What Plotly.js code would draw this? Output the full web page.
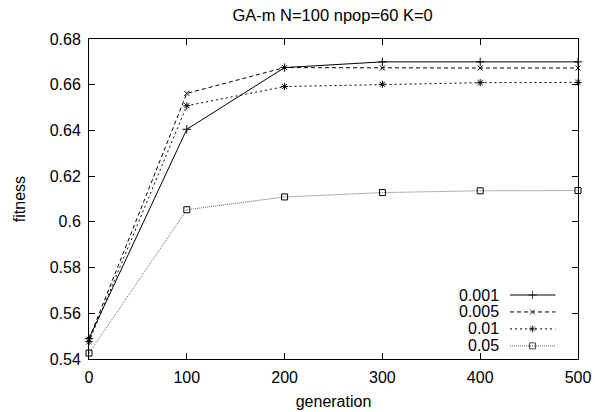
<!DOCTYPE html>
<html>
<head>
<meta charset="utf-8">
<script src="https://cdn.plot.ly/plotly-3.0.1.min.js"></script>
<style>html,body{margin:0;padding:0;background:#fff;}#chart{width:595px;height:412px;}</style>
</head>
<body>
<div id="chart"></div>
<script>
var generations = [0, 100, 200, 300, 400, 500];
var seriesNames = ["0.001", "0.005", "0.01", "0.05"];
var fit001 = [0.549, 0.6405, 0.6675, 0.6700, 0.6700, 0.6700];
var fit005 = [0.5487, 0.6562, 0.6675, 0.6673, 0.6673, 0.6673];
var fit01  = [0.5476, 0.6508, 0.6592, 0.6602, 0.6609, 0.6610];
var fit05  = [0.5426, 0.6053, 0.6109, 0.6128, 0.6136, 0.6137];
var xTicks = [0, 100, 200, 300, 400, 500];
var yTicks = [0.54, 0.56, 0.58, 0.6, 0.62, 0.64, 0.66, 0.68];
var yTickText = ["0.54", "0.56", "0.58", "0.6", "0.62", "0.64", "0.66", "0.68"];

var seriesValues = [fit001, fit005, fit01, fit05];
var styles = [
  {dash: "solid", color: "#000", symbol: "cross-thin-open", size: 6, lc: "#000"},
  {dash: "4px,3px", color: "#000", symbol: "x-thin-open", size: 5, lc: "#000"},
  {dash: "2px,3px", color: "#000", symbol: "asterisk-open", size: 6, lc: "#000"},
  {dash: "1px,1px", color: "#666", symbol: "square-open", size: 6, lc: "#000"}
];

var traces = [];
seriesValues.forEach(function (vals, i) {
  var s = styles[i];
  traces.push({
    x: generations, y: vals, type: "scatter", mode: "lines+markers",
    name: seriesNames[i], showlegend: false, cliponaxis: false,
    line: {color: s.color, width: 1, dash: s.dash},
    marker: {symbol: s.symbol, size: s.size, color: s.lc, line: {color: s.lc, width: 1}}
  });
});

// legend keys (gnuplot style: label on the left, sample on the right)
var keyTop = 0.20, keyStep = 0.053;
var annotations = [];
seriesNames.forEach(function (nm, i) {
  var s = styles[i];
  var ky = keyTop - i * keyStep;
  traces.push({
    x: [0.861, 0.907, 0.954],
    y: [ky, ky, ky], xaxis: "x2", yaxis: "y2", type: "scatter", mode: "lines+markers",
    showlegend: false, hoverinfo: "skip", cliponaxis: false,
    line: {color: s.color, width: 1, dash: s.dash},
    marker: {symbol: s.symbol, size: [0, s.size, 0], color: s.lc, line: {color: s.lc, width: [0, 1, 0]}}
  });
  annotations.push({
    xref: "x2", yref: "y2", x: 0.838, y: ky, text: nm, showarrow: false,
    xanchor: "right", yanchor: "middle", xshift: 2, font: {family: "Liberation Sans, Arial, sans-serif", size: 16, color: "#000"}
  });
});

var layout = {
  width: 595, height: 412,
  margin: {l: 89, r: 17, t: 39, b: 53},
  paper_bgcolor: "#fff", plot_bgcolor: "#fff",
  font: {family: "Liberation Sans, Arial, sans-serif", size: 16, color: "#000"},
  title: {text: "GA-m N=100 npop=60 K=0", x: 0.559, xanchor: "center", y: 0.962, yanchor: "middle",
          font: {size: 16.5, color: "#000"}},
  xaxis: {
    range: [0, 500], tickvals: xTicks, ticks: "inside", ticklen: 6, tickcolor: "#000",
    showline: true, linecolor: "#000", linewidth: 1, mirror: "ticks", showgrid: false, zeroline: false,
    tickfont: {size: 16}, ticklabelstandoff: 4,
    title: {text: "generation", font: {size: 16}, standoff: 10}
  },
  yaxis: {
    range: [0.54, 0.68], tickvals: yTicks, ticktext: yTickText, ticks: "inside", ticklen: 6, tickcolor: "#000",
    showline: true, linecolor: "#000", linewidth: 1, mirror: "ticks", showgrid: false, zeroline: false,
    tickfont: {size: 16}, ticklabelstandoff: 4,
    title: {text: "fitness", font: {size: 16}, standoff: 20}
  },
  xaxis2: {overlaying: "x", range: [0, 1], visible: false, fixedrange: true},
  yaxis2: {overlaying: "y", range: [0, 1], visible: false, fixedrange: true},
  annotations: annotations,
  showlegend: false
};

Plotly.newPlot("chart", traces, layout, {displayModeBar: false, staticPlot: true});
</script>
</body>
</html>
